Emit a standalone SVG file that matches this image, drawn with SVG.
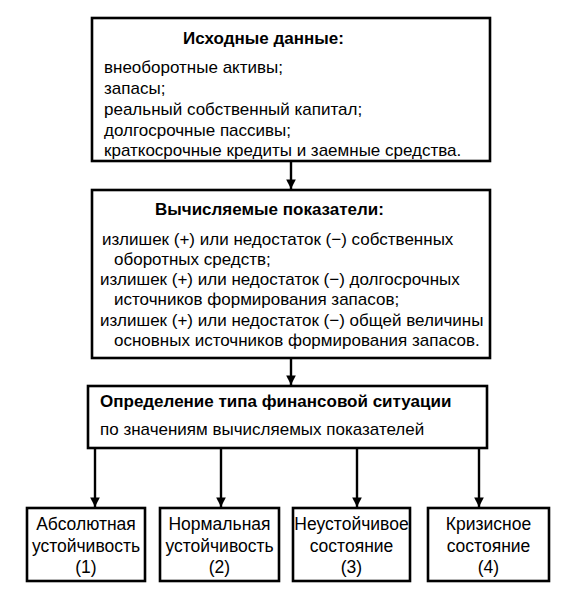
<svg xmlns="http://www.w3.org/2000/svg" width="563" height="608" viewBox="0 0 563 608">
<defs>
<style>
.box{fill:#fff;stroke:#000;stroke-width:2.6}
.t{font-family:"Liberation Sans",Arial,sans-serif;font-size:17px;fill:#000}
.s{font-size:17.5px}
.b{font-weight:bold}
.c{text-anchor:middle}
.ln{stroke:#000;stroke-width:2.4;fill:none}
</style>
<marker id="ah" viewBox="0 0 10 10" refX="10" refY="5" markerWidth="4" markerHeight="5" orient="auto" markerUnits="strokeWidth">
<path d="M0,0 L10,5 L0,10 Z" fill="#000"/>
</marker>
</defs>
<rect width="563" height="608" fill="#fff"/>
<g id="connectors">
<line class="ln" x1="291" y1="161" x2="291" y2="189" marker-end="url(#ah)"/>
<line class="ln" x1="291" y1="358" x2="291" y2="385" marker-end="url(#ah)"/>
<line class="ln" x1="95" y1="448" x2="95" y2="507" marker-end="url(#ah)"/>
<line class="ln" x1="221" y1="448" x2="221" y2="507" marker-end="url(#ah)"/>
<line class="ln" x1="357" y1="448" x2="357" y2="507" marker-end="url(#ah)"/>
<line class="ln" x1="479" y1="448" x2="479" y2="507" marker-end="url(#ah)"/>
</g>
<g id="input">
<rect class="box" x="92" y="18" width="398" height="143"/>
<text class="t b" x="183" y="44">Исходные данные:</text>
<text class="t" x="104" y="73">внеоборотные активы;</text>
<text class="t" x="104" y="94">запасы;</text>
<text class="t" x="104" y="115">реальный собственный капитал;</text>
<text class="t" x="104" y="136">долгосрочные пассивы;</text>
<text class="t" x="104" y="156">краткосрочные кредиты и заемные средства.</text>
</g>
<g id="computed">
<rect class="box" x="92" y="190" width="398" height="168"/>
<text class="t b" x="155" y="215">Вычисляемые показатели:</text>
<text class="t" x="102" y="245">излишек (+) или недостаток (−) собственных</text>
<text class="t" x="114" y="265">оборотных средств;</text>
<text class="t" x="100" y="285">излишек (+) или недостаток (−) долгосрочных</text>
<text class="t" x="114" y="305">источников формирования запасов;</text>
<text class="t" x="100" y="326">излишек (+) или недостаток (−) общей величины</text>
<text class="t" x="114" y="346">основных источников формирования запасов.</text>
</g>
<g id="determination">
<rect class="box" x="88" y="386" width="399" height="62"/>
<text class="t b" x="100" y="407">Определение типа финансовой ситуации</text>
<text class="t" x="100" y="435">по значениям вычисляемых показателей</text>
</g>
<g id="type1">
<rect class="box" x="27" y="508" width="118" height="73"/>
<text class="t s c" x="86" y="530">Абсолютная</text>
<text class="t s c" x="86" y="552">устойчивость</text>
<text class="t s c" x="86" y="573">(1)</text>
</g>
<g id="type2">
<rect class="box" x="160" y="508" width="119" height="73"/>
<text class="t s c" x="219.5" y="530">Нормальная</text>
<text class="t s c" x="219.5" y="552">устойчивость</text>
<text class="t s c" x="219.5" y="573">(2)</text>
</g>
<g id="type3">
<rect class="box" x="293" y="508" width="117" height="73"/>
<text class="t s c" x="351.5" y="530">Неустойчивое</text>
<text class="t s c" x="351.5" y="552">состояние</text>
<text class="t s c" x="351.5" y="573">(3)</text>
</g>
<g id="type4">
<rect class="box" x="428" y="508" width="121" height="73"/>
<text class="t s c" x="488.5" y="530">Кризисное</text>
<text class="t s c" x="488.5" y="552">состояние</text>
<text class="t s c" x="488.5" y="573">(4)</text>
</g>
</svg>
